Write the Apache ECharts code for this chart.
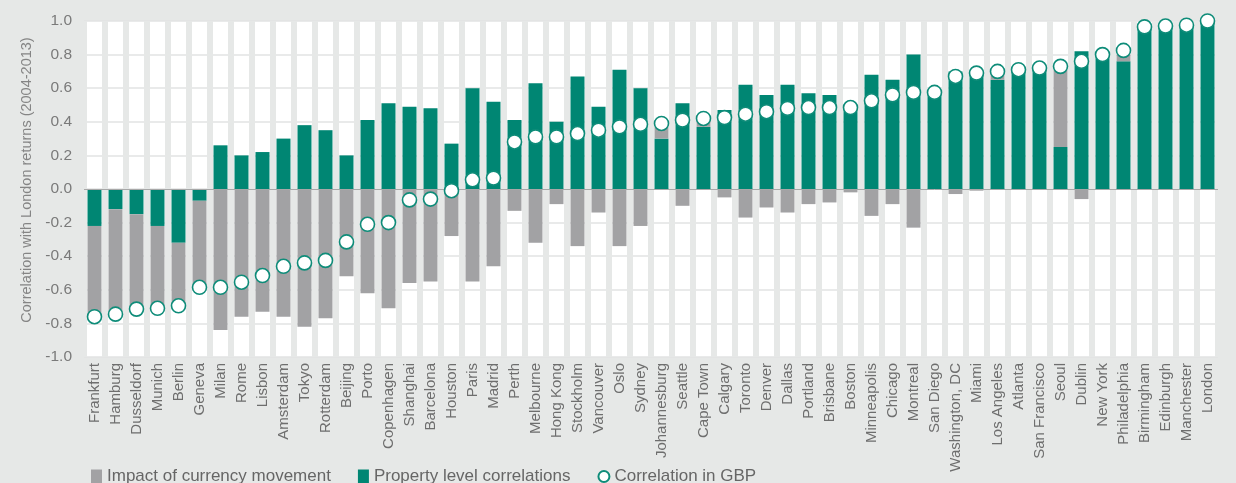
<!DOCTYPE html>
<html>
<head>
<meta charset="utf-8">
<script src="https://cdn.jsdelivr.net/npm/echarts@6/dist/echarts.min.js"></script>
<style>
html,body{margin:0;padding:0;background:#e6e8e7;}
#c{width:1236px;height:483px;}
</style>
</head>
<body>
<div id="c"></div>
<script>
var cities = ["Frankfurt","Hamburg","Dusseldorf","Munich","Berlin","Geneva","Milan","Rome","Lisbon","Amsterdam","Tokyo","Rotterdam","Beijing","Porto","Copenhagen","Shanghai","Barcelona","Houston","Paris","Madrid","Perth","Melbourne","Hong Kong","Stockholm","Vancouver","Oslo","Sydney","Johannesburg","Seattle","Cape Town","Calgary","Toronto","Denver","Dallas","Portland","Brisbane","Boston","Minneapolis","Chicago","Montreal","San Diego","Washington, DC","Miami","Los Angeles","Atlanta","San Francisco","Seoul","Dublin","New York","Philadelphia","Birmingham","Edinburgh","Manchester","London"];

var propertyLevel = [-0.22,-0.12,-0.15,-0.22,-0.32,-0.07,0.26,0.20,0.22,0.30,0.38,0.35,0.20,0.41,0.51,0.49,0.48,0.27,0.60,0.52,0.41,0.63,0.40,0.67,0.49,0.71,0.60,0.30,0.51,0.37,0.47,0.62,0.56,0.62,0.57,0.56,0.50,0.68,0.65,0.80,0.57,0.70,0.70,0.65,0.71,0.72,0.25,0.82,0.80,0.76,0.97,0.97,0.97,1.00];

var currencyImpact = [-0.54,-0.62,-0.57,-0.49,-0.37,-0.52,-0.84,-0.76,-0.73,-0.76,-0.82,-0.77,-0.52,-0.62,-0.71,-0.56,-0.55,-0.28,-0.55,-0.46,-0.13,-0.32,-0.09,-0.34,-0.14,-0.34,-0.22,0.07,-0.10,0.05,-0.05,-0.17,-0.11,-0.14,-0.09,-0.08,-0.02,-0.16,-0.09,-0.23,0,-0.03,-0.01,0.05,0,0,0.46,-0.06,0,0.04,0,0,0,0];

var gbpCorrelation = [-0.76,-0.745,-0.715,-0.71,-0.695,-0.585,-0.585,-0.555,-0.515,-0.46,-0.44,-0.425,-0.315,-0.21,-0.20,-0.065,-0.06,-0.01,0.055,0.065,0.28,0.31,0.31,0.33,0.35,0.37,0.385,0.39,0.41,0.42,0.425,0.445,0.46,0.48,0.485,0.485,0.485,0.525,0.56,0.575,0.575,0.67,0.69,0.70,0.71,0.72,0.73,0.76,0.80,0.825,0.965,0.97,0.975,1.00];

var yTicks = {min: -1, max: 1, interval: 0.2};

var GREEN = '#008673', GREY = '#a2a2a4', PAGE = '#e6e8e7';
var FONT = 'Liberation Sans, Arial, sans-serif';

var chart = echarts.init(document.getElementById('c'));
chart.setOption({
  backgroundColor: PAGE,
  animation: false,
  textStyle: {fontFamily: FONT},
  grid: {left: 84, right: 18, top: 21, bottom: 126, show: true, backgroundColor: '#ffffff', borderWidth: 0},
  legend: {
    left: 86, top: 463,
    itemWidth: 11, itemHeight: 14, itemGap: 27,
    textStyle: {fontFamily: FONT, fontSize: 17, color: '#666'},
    data: [
      {name: 'Impact of currency movement', icon: 'rect'},
      {name: 'Property level correlations', icon: 'rect'},
      {name: 'Correlation in GBP', icon: 'circle'}
    ]
  },
  xAxis: {
    type: 'category', data: cities, z: 1,
    axisLine: {show: false},
    axisTick: {show: false},
    axisLabel: {interval: 0, rotate: 90, margin: 6, fontSize: 15, color: '#6e6e6e', fontFamily: FONT},
    splitLine: {show: true, interval: 0, lineStyle: {color: PAGE, width: 6}}
  },
  yAxis: {
    type: 'value', min: yTicks.min, max: yTicks.max, interval: yTicks.interval, z: 0,
    name: 'Correlation with London returns (2004-2013)',
    nameLocation: 'middle', nameGap: 45,
    nameTextStyle: {fontSize: 14.5, color: '#858585', fontFamily: FONT, padding: [0,0,0,18]},
    axisLine: {show: false}, axisTick: {show: false},
    axisLabel: {margin: 12, fontSize: 15.5, color: '#7a7a7a', fontFamily: FONT,
      formatter: function(v){ return v.toFixed(1); }},
    splitLine: {show: true, lineStyle: {color: '#e2e3e3', width: 1.5}}
  },
  series: [
    {name: 'Property level correlations', type: 'bar', stack: 'val', data: propertyLevel, barWidth: 14, z: 4,
      itemStyle: {color: GREEN},
      markLine: {silent: true, symbol: 'none', label: {show: false},
        lineStyle: {color: '#a8a8a8', width: 1, type: 'solid'},
        data: [{yAxis: 0}]}},
    {name: 'Impact of currency movement', type: 'bar', stack: 'val', data: currencyImpact, barWidth: 14, z: 4,
      itemStyle: {color: GREY}},
    {name: 'Correlation in GBP', type: 'scatter', data: gbpCorrelation, z: 6,
      symbol: 'circle', symbolSize: 14,
      itemStyle: {color: '#ffffff', borderColor: '#0e8c79', borderWidth: 1.6, opacity: 1}}
  ]
});
</script>
</body>
</html>
